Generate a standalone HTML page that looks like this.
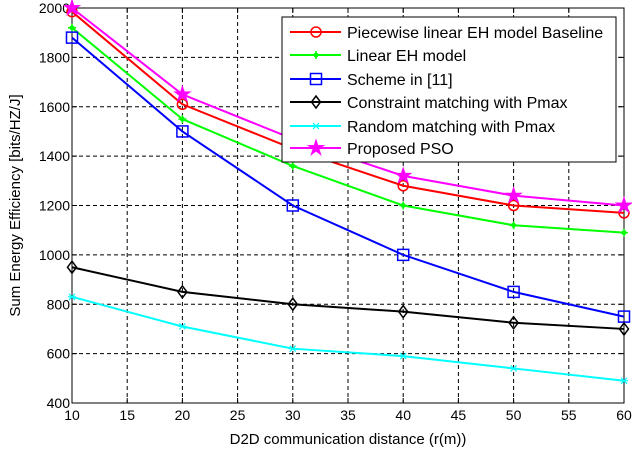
<!DOCTYPE html>
<html><head><meta charset="utf-8"><style>
html,body{margin:0;padding:0;background:#fff;}
svg{display:block;font-family:"Liberation Sans",Arial,sans-serif;}
</style></head><body>
<svg id="chart" width="632" height="450" viewBox="0 0 632 450" xmlns="http://www.w3.org/2000/svg"></svg>
<script>
const xValues = [10, 20, 30, 40, 50, 60];
const xTicks = [10, 15, 20, 25, 30, 35, 40, 45, 50, 55, 60];
const yTicks = [400, 600, 800, 1000, 1200, 1400, 1600, 1800, 2000];
const piecewiseValues = [1985, 1610, 1430, 1280, 1200, 1170];
const linearValues = [1920, 1550, 1360, 1200, 1120, 1090];
const schemeValues = [1880, 1500, 1200, 1000, 850, 750];
const constraintValues = [950, 850, 800, 770, 725, 700];
const randomValues = [830, 710, 620, 590, 540, 490];
const psoValues = [2000, 1650, 1470, 1320, 1240, 1200];
const seriesNames = ["Piecewise linear EH model Baseline","Linear EH model","Scheme in [11]","Constraint matching with Pmax","Random matching with Pmax","Proposed PSO"];

const L=72,R=624,T=8,B=403;
const xs=v=>L+(v-10)/50*(R-L);
const ys=v=>B-(v-400)/1600*(B-T);
const svg=document.getElementById('chart');
const NS='http://www.w3.org/2000/svg';
function mk(tag,attrs,parent){const e=document.createElementNS(NS,tag);for(const k in attrs)e.setAttribute(k,attrs[k]);(parent||svg).appendChild(e);return e;}

const grid=mk('g',{});


xTicks.forEach(t=>{
  if(t>10&&t<60){const l=mk('line',{x1:xs(t),x2:xs(t),y1:T,y2:B,stroke:'#000','stroke-width':1,'stroke-dasharray':'4,3'},grid);
  
  }
  mk('line',{x1:xs(t),x2:xs(t),y1:B,y2:B-5,stroke:'#000'},grid);
  mk('line',{x1:xs(t),x2:xs(t),y1:T,y2:T+5,stroke:'#000'},grid);
  const tx=mk('text',{x:xs(t),y:B+17,'text-anchor':'middle','font-size':14,fill:'#000'});
  tx.textContent=t;
  
  
});
yTicks.forEach(t=>{
  if(t>400&&t<2000){const l=mk('line',{x1:L,x2:R,y1:ys(t),y2:ys(t),stroke:'#000','stroke-width':1,'stroke-dasharray':'4,3'},grid);
  
  }
  mk('line',{x1:L,x2:L+5,y1:ys(t),y2:ys(t),stroke:'#000'},grid);
  mk('line',{x1:R,x2:R-5,y1:ys(t),y2:ys(t),stroke:'#000'},grid);
  const tx=mk('text',{x:L-2,y:ys(t)+5,'text-anchor':'end','font-size':14,fill:'#000'});
  tx.textContent=t;
  
  
});
const frame=mk('rect',{x:L,y:T,width:R-L,height:B-T,fill:'none',stroke:'#000','stroke-width':1});



function marker(type,x,y,color,g){
  if(type==='circle')mk('circle',{cx:x,cy:y,r:5,fill:'none',stroke:color,'stroke-width':1.5},g);
  else if(type==='dot'){mk('circle',{cx:x,cy:y,r:2.5,fill:color},g);mk('line',{x1:x-4,x2:x+4,y1:y,y2:y,stroke:color,'stroke-width':1.5},g);mk('line',{x1:x,x2:x,y1:y-4,y2:y+4,stroke:color,'stroke-width':1.5},g);}
  else if(type==='square')mk('rect',{x:x-5.5,y:y-5.5,width:11,height:11,fill:'none',stroke:color,'stroke-width':1.5},g);
  else if(type==='diamond')mk('polygon',{points:`${x},${y-6} ${x+4.5},${y} ${x},${y+6} ${x-4.5},${y}`,fill:'none',stroke:color,'stroke-width':1.5},g);
  else if(type==='x'){mk('line',{x1:x-3,x2:x+3,y1:y-3,y2:y+3,stroke:color,'stroke-width':1.2},g);mk('line',{x1:x-3,x2:x+3,y1:y+3,y2:y-3,stroke:color,'stroke-width':1.2},g);mk('line',{x1:x-4,x2:x+4,y1:y,y2:y,stroke:color,'stroke-width':1.2},g);}
  else if(type==='star'){let p=[];for(let i=0;i<10;i++){const r=i%2?3:8,a=-Math.PI/2+i*Math.PI/5;p.push((x+r*Math.cos(a)).toFixed(1)+','+(y+r*Math.sin(a)).toFixed(1));}mk('polygon',{points:p.join(' '),fill:color,stroke:color,'stroke-width':1},g);}
}
const series=[
  [piecewiseValues,'#ff0000','circle','series-piecewise'],
  [linearValues,'#00ff00','dot','series-linear'],
  [schemeValues,'#0000ff','square','series-scheme11'],
  [constraintValues,'#000000','diamond','series-constraint'],
  [randomValues,'#00ffff','x','series-random'],
  [psoValues,'#ff00ff','star','series-pso']
];
series.forEach(s=>{
  const g=mk('g',{});
  
  
  mk('polyline',{points:s[0].map((v,i)=>xs(xValues[i])+','+ys(v)).join(' '),fill:'none',stroke:s[1],'stroke-width':2},g);
  s[0].forEach((v,i)=>marker(s[2],xs(xValues[i]),ys(v),s[1],g));
});

const leg=mk('g',{});


mk('rect',{x:282,y:17,width:334,height:145,fill:'#fff',stroke:'#000','stroke-width':1},leg);
const rowsY=[32,55,79,102,126,148];
series.forEach((s,i)=>{
  const y=rowsY[i];
  const e=mk('g',{},leg);
  
  
  mk('line',{x1:290,x2:341,y1:y,y2:y,stroke:s[1],'stroke-width':2},e);
  marker(s[2],316,y,s[1],e);
  const t=mk('text',{x:347,y:y+6,'font-size':16,fill:'#000'},e);
  t.textContent=seriesNames[i];
});

const xl=mk('text',{x:348,y:444,'text-anchor':'middle','font-size':15,fill:'#000'});
xl.textContent='D2D communication distance (r(m))';


const yl=mk('text',{x:0,y:0,'text-anchor':'middle','font-size':15,fill:'#000',transform:`translate(20,${(T+B)/2}) rotate(-90)`});
yl.textContent='Sum Energy Efficiency [bits/HZ/J]';


</script>
</body></html>
